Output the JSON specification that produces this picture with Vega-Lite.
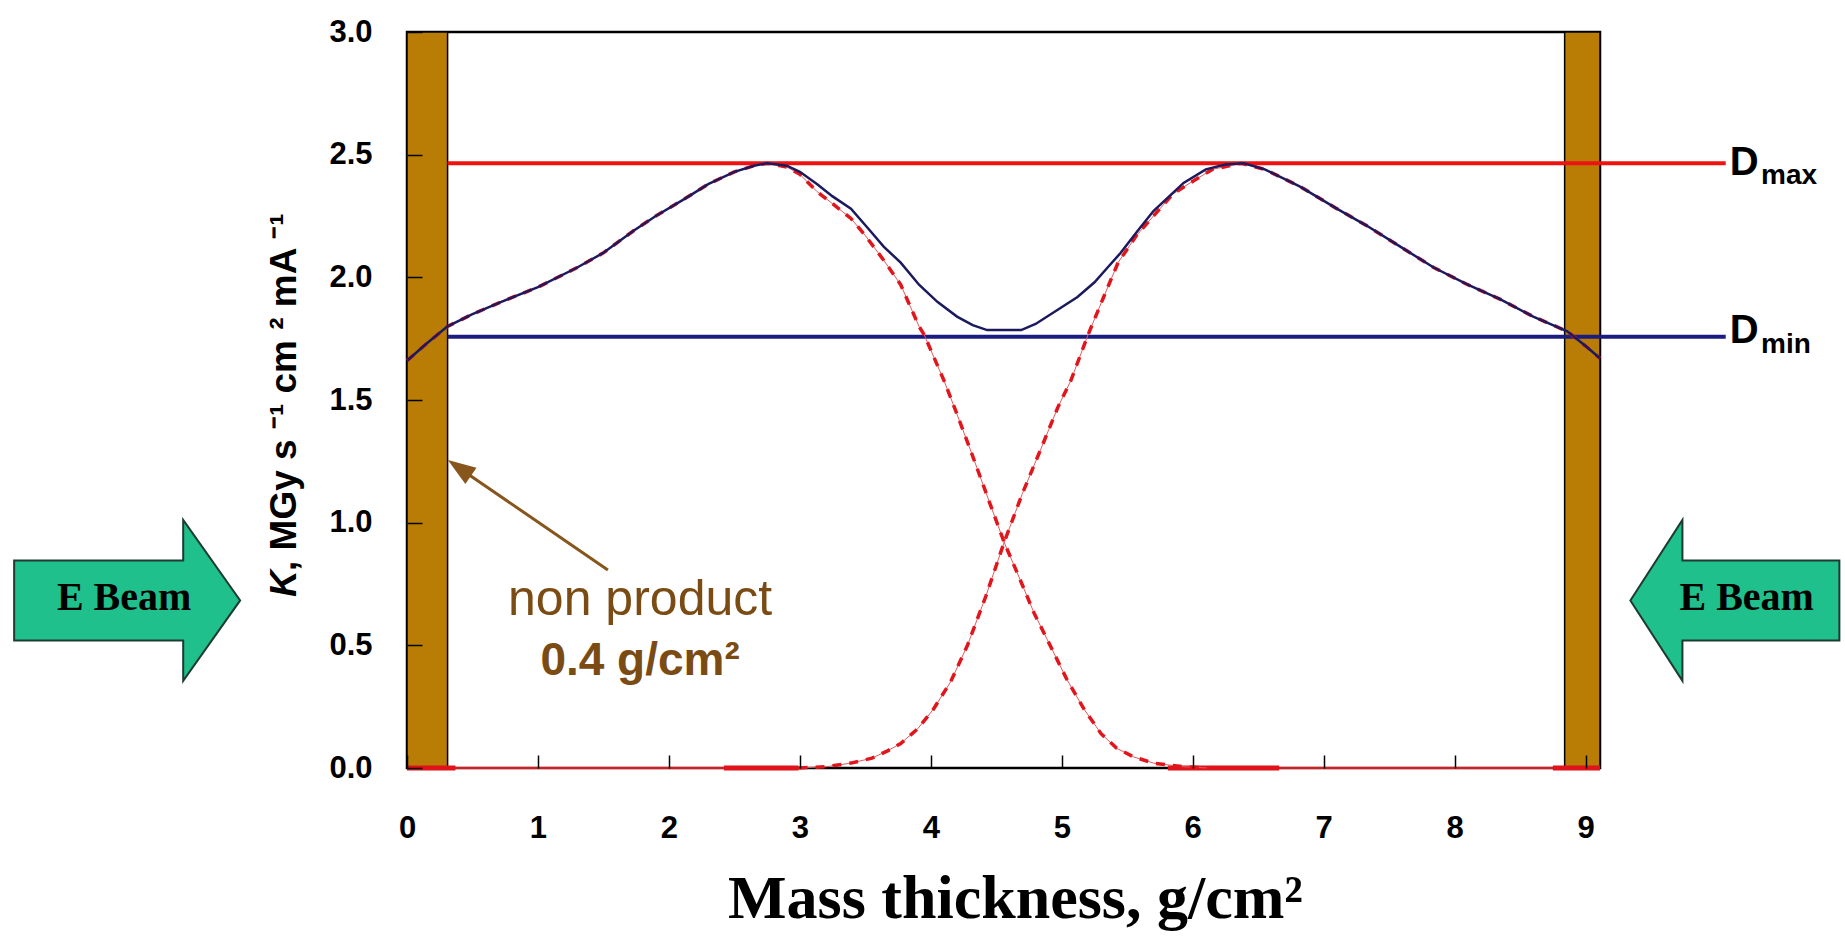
{
  "$schema": "https://vega.github.io/schema/vega-lite/v6.json",
  "width": 1193,
  "height": 736,
  "autosize": {"type": "none"},
  "padding": {"left": 407, "top": 32, "right": 245, "bottom": 177},
  "background": "white",
  "config": {"view": {"stroke": "black", "strokeWidth": 2.5}, "font": "Liberation Sans"},
  "datasets": {
    "curves": [
      {"series": "Left beam", "x": 0, "y": 1.66}, {"series": "Left beam", "x": 0.15, "y": 1.73}, {"series": "Left beam", "x": 0.31, "y": 1.8}, {"series": "Left beam", "x": 0.5, "y": 1.85}, {"series": "Left beam", "x": 0.72, "y": 1.9}, {"series": "Left beam", "x": 1.0, "y": 1.96}, {"series": "Left beam", "x": 1.3, "y": 2.04}, {"series": "Left beam", "x": 1.5, "y": 2.1}, {"series": "Left beam", "x": 1.73, "y": 2.19}, {"series": "Left beam", "x": 1.9, "y": 2.25}, {"series": "Left beam", "x": 2.12, "y": 2.32}, {"series": "Left beam", "x": 2.3, "y": 2.38}, {"series": "Left beam", "x": 2.5, "y": 2.43}, {"series": "Left beam", "x": 2.65, "y": 2.455}, {"series": "Left beam", "x": 2.75, "y": 2.465}, {"series": "Left beam", "x": 2.9, "y": 2.45}, {"series": "Left beam", "x": 3.0, "y": 2.42}, {"series": "Left beam", "x": 3.13, "y": 2.35}, {"series": "Left beam", "x": 3.25, "y": 2.3}, {"series": "Left beam", "x": 3.39, "y": 2.24}, {"series": "Left beam", "x": 3.5, "y": 2.17}, {"series": "Left beam", "x": 3.64, "y": 2.07}, {"series": "Left beam", "x": 3.77, "y": 1.97}, {"series": "Left beam", "x": 3.91, "y": 1.8}, {"series": "Left beam", "x": 3.95, "y": 1.765}, {"series": "Left beam", "x": 4.1, "y": 1.58}, {"series": "Left beam", "x": 4.18, "y": 1.47}, {"series": "Left beam", "x": 4.3, "y": 1.3}, {"series": "Left beam", "x": 4.45, "y": 1.08}, {"series": "Left beam", "x": 4.56, "y": 0.92}, {"series": "Left beam", "x": 4.68, "y": 0.77}, {"series": "Left beam", "x": 4.79, "y": 0.63}, {"series": "Left beam", "x": 4.92, "y": 0.49}, {"series": "Left beam", "x": 5.04, "y": 0.36}, {"series": "Left beam", "x": 5.17, "y": 0.24}, {"series": "Left beam", "x": 5.3, "y": 0.14}, {"series": "Left beam", "x": 5.42, "y": 0.08}, {"series": "Left beam", "x": 5.55, "y": 0.045}, {"series": "Left beam", "x": 5.7, "y": 0.02}, {"series": "Left beam", "x": 5.93, "y": 0.005}, {"series": "Left beam", "x": 6.12, "y": 0},
      {"series": "Right beam", "x": 2.99, "y": 0}, {"series": "Right beam", "x": 3.2, "y": 0.005}, {"series": "Right beam", "x": 3.39, "y": 0.02}, {"series": "Right beam", "x": 3.55, "y": 0.04}, {"series": "Right beam", "x": 3.67, "y": 0.07}, {"series": "Right beam", "x": 3.77, "y": 0.1}, {"series": "Right beam", "x": 3.9, "y": 0.16}, {"series": "Right beam", "x": 4.02, "y": 0.24}, {"series": "Right beam", "x": 4.15, "y": 0.35}, {"series": "Right beam", "x": 4.28, "y": 0.5}, {"series": "Right beam", "x": 4.42, "y": 0.7}, {"series": "Right beam", "x": 4.56, "y": 0.92}, {"series": "Right beam", "x": 4.7, "y": 1.12}, {"series": "Right beam", "x": 4.84, "y": 1.3}, {"series": "Right beam", "x": 4.97, "y": 1.47}, {"series": "Right beam", "x": 5.07, "y": 1.58}, {"series": "Right beam", "x": 5.2, "y": 1.765}, {"series": "Right beam", "x": 5.32, "y": 1.92}, {"series": "Right beam", "x": 5.43, "y": 2.06}, {"series": "Right beam", "x": 5.57, "y": 2.17}, {"series": "Right beam", "x": 5.7, "y": 2.25}, {"series": "Right beam", "x": 5.85, "y": 2.34}, {"series": "Right beam", "x": 5.98, "y": 2.385}, {"series": "Right beam", "x": 6.15, "y": 2.44}, {"series": "Right beam", "x": 6.37, "y": 2.465}, {"series": "Right beam", "x": 6.55, "y": 2.44}, {"series": "Right beam", "x": 6.82, "y": 2.37}, {"series": "Right beam", "x": 7.1, "y": 2.28}, {"series": "Right beam", "x": 7.33, "y": 2.21}, {"series": "Right beam", "x": 7.6, "y": 2.12}, {"series": "Right beam", "x": 7.84, "y": 2.04}, {"series": "Right beam", "x": 8.1, "y": 1.97}, {"series": "Right beam", "x": 8.35, "y": 1.91}, {"series": "Right beam", "x": 8.6, "y": 1.84}, {"series": "Right beam", "x": 8.86, "y": 1.78}, {"series": "Right beam", "x": 9.0, "y": 1.72}, {"series": "Right beam", "x": 9.11, "y": 1.67},
      {"series": "Total", "x": 0, "y": 1.66}, {"series": "Total", "x": 0.15, "y": 1.73}, {"series": "Total", "x": 0.31, "y": 1.8}, {"series": "Total", "x": 0.5, "y": 1.85}, {"series": "Total", "x": 0.72, "y": 1.9}, {"series": "Total", "x": 1.0, "y": 1.96}, {"series": "Total", "x": 1.3, "y": 2.04}, {"series": "Total", "x": 1.5, "y": 2.1}, {"series": "Total", "x": 1.73, "y": 2.19}, {"series": "Total", "x": 1.9, "y": 2.25}, {"series": "Total", "x": 2.12, "y": 2.32}, {"series": "Total", "x": 2.3, "y": 2.38}, {"series": "Total", "x": 2.5, "y": 2.43}, {"series": "Total", "x": 2.65, "y": 2.455}, {"series": "Total", "x": 2.75, "y": 2.465}, {"series": "Total", "x": 2.9, "y": 2.455}, {"series": "Total", "x": 3.0, "y": 2.43}, {"series": "Total", "x": 3.13, "y": 2.38}, {"series": "Total", "x": 3.25, "y": 2.33}, {"series": "Total", "x": 3.39, "y": 2.28}, {"series": "Total", "x": 3.52, "y": 2.2}, {"series": "Total", "x": 3.64, "y": 2.125}, {"series": "Total", "x": 3.77, "y": 2.06}, {"series": "Total", "x": 3.91, "y": 1.97}, {"series": "Total", "x": 4.05, "y": 1.9}, {"series": "Total", "x": 4.2, "y": 1.84}, {"series": "Total", "x": 4.32, "y": 1.805}, {"series": "Total", "x": 4.43, "y": 1.785}, {"series": "Total", "x": 4.69, "y": 1.785}, {"series": "Total", "x": 4.8, "y": 1.81}, {"series": "Total", "x": 4.99, "y": 1.875}, {"series": "Total", "x": 5.12, "y": 1.92}, {"series": "Total", "x": 5.25, "y": 1.98}, {"series": "Total", "x": 5.35, "y": 2.04}, {"series": "Total", "x": 5.45, "y": 2.1}, {"series": "Total", "x": 5.58, "y": 2.19}, {"series": "Total", "x": 5.7, "y": 2.27}, {"series": "Total", "x": 5.82, "y": 2.33}, {"series": "Total", "x": 5.93, "y": 2.385}, {"series": "Total", "x": 6.1, "y": 2.44}, {"series": "Total", "x": 6.25, "y": 2.46}, {"series": "Total", "x": 6.39, "y": 2.465}, {"series": "Total", "x": 6.55, "y": 2.44}, {"series": "Total", "x": 6.82, "y": 2.37}, {"series": "Total", "x": 7.1, "y": 2.28}, {"series": "Total", "x": 7.33, "y": 2.21}, {"series": "Total", "x": 7.6, "y": 2.12}, {"series": "Total", "x": 7.84, "y": 2.04}, {"series": "Total", "x": 8.1, "y": 1.97}, {"series": "Total", "x": 8.35, "y": 1.91}, {"series": "Total", "x": 8.6, "y": 1.84}, {"series": "Total", "x": 8.86, "y": 1.78}, {"series": "Total", "x": 9.0, "y": 1.72}, {"series": "Total", "x": 9.11, "y": 1.67}
    ],
    "zero": [
      {"seg": "a", "x": 0, "y": 0}, {"seg": "a", "x": 2.99, "y": 0},
      {"seg": "b", "x": 6.12, "y": 0}, {"seg": "b", "x": 9.11, "y": 0}
    ],
    "zerothick": [
      {"seg": "a", "x": 0, "y": 0}, {"seg": "a", "x": 0.37, "y": 0},
      {"seg": "b", "x": 2.42, "y": 0}, {"seg": "b", "x": 2.99, "y": 0},
      {"seg": "c", "x": 5.81, "y": 0}, {"seg": "c", "x": 6.66, "y": 0},
      {"seg": "d", "x": 8.75, "y": 0}, {"seg": "d", "x": 9.11, "y": 0}
    ],
    "bars": [
      {"name": "non product left", "x": 0, "x2": 0.31},
      {"name": "non product right", "x": 8.84, "x2": 9.11}
    ],
    "dlines": [
      {"name": "Dmax", "y": 2.465},
      {"name": "Dmin", "y": 1.758}
    ]
  },
  "layer": [
    {
      "data": {"name": "curves"},
      "transform": [{"filter": "datum.series === 'Total'"}],
      "mark": {"type": "line", "color": "#1c1a5e", "strokeWidth": 2.5, "opacity": 0},
      "encoding": {
        "x": {
          "field": "x", "type": "quantitative",
          "scale": {"domain": [0, 9.11], "nice": false, "zero": false},
          "axis": {
            "title": "Mass thickness, g/cm²", "titleFont": "Liberation Serif", "titleFontWeight": "bold", "titleFontSize": 62, "titleColor": "black",
            "titleX": 608, "titleY": 149, "titleBaseline": "alphabetic", "titleAlign": "center",
            "values": [0, 1, 2, 3, 4, 5, 6, 7, 8, 9], "format": "d",
            "labelFont": "Liberation Sans", "labelFontWeight": "bold", "labelFontSize": 31, "labelColor": "black", "labelPadding": 58,
            "tickSize": -13, "tickColor": "black", "tickWidth": 1.5, "domain": false, "grid": false, "zindex": 1, "labelFlush": false
          }
        },
        "y": {
          "field": "y", "type": "quantitative",
          "scale": {"domain": [0, 3], "nice": false, "zero": false},
          "axis": {
            "title": null,
            "values": [0, 0.5, 1, 1.5, 2, 2.5, 3], "format": ".1f",
            "labelFont": "Liberation Sans", "labelFontWeight": "bold", "labelFontSize": 31, "labelColor": "black", "labelPadding": 50,
            "tickSize": -15, "tickColor": "black", "tickWidth": 1.5, "domain": false, "grid": false, "zindex": 1, "labelFlush": false
          }
        }
      }
    },
    {
      "data": {"name": "bars"},
      "mark": {"type": "rect", "fill": "#b97d05", "stroke": "black", "strokeWidth": 1.5},
      "encoding": {
        "x": {"field": "x", "type": "quantitative"},
        "x2": {"field": "x2"},
        "y": {"datum": 0, "type": "quantitative"},
        "y2": {"datum": 3}
      }
    },
    {
      "data": {"name": "dlines"},
      "transform": [{"filter": "datum.name === 'Dmax'"}],
      "mark": {"type": "rule", "color": "#ee1313", "strokeWidth": 4},
      "encoding": {
        "y": {"field": "y", "type": "quantitative"},
        "x": {"datum": 0.31, "type": "quantitative"},
        "x2": {"datum": 10.07}
      }
    },
    {
      "data": {"name": "dlines"},
      "transform": [{"filter": "datum.name === 'Dmin'"}],
      "mark": {"type": "rule", "color": "#1b1c80", "strokeWidth": 4},
      "encoding": {
        "y": {"field": "y", "type": "quantitative"},
        "x": {"datum": 0.31, "type": "quantitative"},
        "x2": {"datum": 10.07}
      }
    },
    {
      "data": {"name": "zero"},
      "mark": {"type": "line", "color": "#e8141c", "strokeWidth": 2},
      "encoding": {
        "x": {"field": "x", "type": "quantitative"},
        "y": {"field": "y", "type": "quantitative"},
        "detail": {"field": "seg"}
      }
    },
    {
      "data": {"name": "zerothick"},
      "mark": {"type": "line", "color": "#e0121a", "strokeWidth": 5},
      "encoding": {
        "x": {"field": "x", "type": "quantitative"},
        "y": {"field": "y", "type": "quantitative"},
        "detail": {"field": "seg"}
      }
    },
    {
      "data": {"name": "curves"},
      "transform": [{"filter": "datum.series !== 'Total'"}],
      "mark": {"type": "line", "color": "#e05a5e", "strokeWidth": 1},
      "encoding": {
        "x": {"field": "x", "type": "quantitative"},
        "y": {"field": "y", "type": "quantitative"},
        "detail": {"field": "series"}
      }
    },
    {
      "data": {"name": "curves"},
      "transform": [{"filter": "datum.series !== 'Total'"}],
      "mark": {"type": "line", "color": "#e0161c", "strokeWidth": 3.5, "strokeDash": [9, 8]},
      "encoding": {
        "x": {"field": "x", "type": "quantitative"},
        "y": {"field": "y", "type": "quantitative"},
        "detail": {"field": "series"}
      }
    },
    {
      "data": {"name": "curves"},
      "transform": [{"filter": "datum.series === 'Total'"}],
      "mark": {"type": "line", "color": "#1c1a5e", "strokeWidth": 2.5},
      "encoding": {
        "x": {"field": "x", "type": "quantitative"},
        "y": {"field": "y", "type": "quantitative"}
      }
    },
    {
      "data": {"values": [{"label": "E Beam arrow"}]},
      "mark": {"type": "point", "shape": "M -1 -0.354 L 0.496 -0.354 L 0.496 -0.712 L 1 0 L 0.496 0.712 L 0.496 0.354 L -1 0.354 Z", "size": 51076, "filled": true, "fill": "#1fc08b", "stroke": "#1d3b30", "strokeWidth": 2, "opacity": 1},
      "encoding": {"x": {"datum": -2.137, "type": "quantitative"}, "y": {"datum": 0.683, "type": "quantitative"}}
    },
    {
      "data": {"values": [{"label": "E Beam arrow"}]},
      "mark": {"type": "point", "shape": "M 1 -0.383 L -0.502 -0.383 L -0.502 -0.77 L -1 0 L -0.502 0.77 L -0.502 0.383 L 1 0.383 Z", "size": 43681, "filled": true, "fill": "#1fc08b", "stroke": "#1d3b30", "strokeWidth": 2, "opacity": 1},
      "encoding": {"x": {"datum": 10.14, "type": "quantitative"}, "y": {"datum": 0.683, "type": "quantitative"}}
    },
    {
      "data": {"values": [{"label": "E Beam"}]},
      "mark": {"type": "text", "font": "Liberation Serif", "fontWeight": "bold", "fontSize": 40, "color": "black", "align": "center", "baseline": "middle"},
      "encoding": {"x": {"datum": -2.16, "type": "quantitative"}, "y": {"datum": 0.693, "type": "quantitative"}, "text": {"field": "label"}}
    },
    {
      "data": {"values": [{"label": "E Beam"}]},
      "mark": {"type": "text", "font": "Liberation Serif", "fontWeight": "bold", "fontSize": 40, "color": "black", "align": "center", "baseline": "middle"},
      "encoding": {"x": {"datum": 10.23, "type": "quantitative"}, "y": {"datum": 0.693, "type": "quantitative"}, "text": {"field": "label"}}
    },
    {
      "data": {"values": [{"label": "D"}]},
      "mark": {"type": "text", "fontWeight": "bold", "fontSize": 40, "color": "black", "align": "left", "baseline": "alphabetic"},
      "encoding": {"x": {"datum": 10.1, "type": "quantitative"}, "y": {"datum": 2.417, "type": "quantitative"}, "text": {"field": "label"}}
    },
    {
      "data": {"values": [{"label": "max"}]},
      "mark": {"type": "text", "fontWeight": "bold", "fontSize": 28, "color": "black", "align": "left", "baseline": "alphabetic"},
      "encoding": {"x": {"datum": 10.34, "type": "quantitative"}, "y": {"datum": 2.38, "type": "quantitative"}, "text": {"field": "label"}}
    },
    {
      "data": {"values": [{"label": "D"}]},
      "mark": {"type": "text", "fontWeight": "bold", "fontSize": 40, "color": "black", "align": "left", "baseline": "alphabetic"},
      "encoding": {"x": {"datum": 10.1, "type": "quantitative"}, "y": {"datum": 1.731, "type": "quantitative"}, "text": {"field": "label"}}
    },
    {
      "data": {"values": [{"label": "min"}]},
      "mark": {"type": "text", "fontWeight": "bold", "fontSize": 28, "color": "black", "align": "left", "baseline": "alphabetic"},
      "encoding": {"x": {"datum": 10.34, "type": "quantitative"}, "y": {"datum": 1.692, "type": "quantitative"}, "text": {"field": "label"}}
    },
    {
      "data": {"values": [{"label": "non product"}]},
      "mark": {"type": "text", "fontSize": 50, "color": "#7b4b14", "align": "center", "baseline": "alphabetic"},
      "encoding": {"x": {"datum": 1.78, "type": "quantitative"}, "y": {"datum": 0.624, "type": "quantitative"}, "text": {"field": "label"}}
    },
    {
      "data": {"values": [{"label": "0.4 g/cm²"}]},
      "mark": {"type": "text", "fontSize": 46, "fontWeight": "bold", "color": "#7b4b14", "align": "center", "baseline": "alphabetic"},
      "encoding": {"x": {"datum": 1.78, "type": "quantitative"}, "y": {"datum": 0.379, "type": "quantitative"}, "text": {"field": "label"}}
    },
    {
      "data": {"values": [{"label": "arrow"}]},
      "mark": {"type": "rule", "color": "#87561c", "strokeWidth": 3},
      "encoding": {"x": {"datum": 1.534, "type": "quantitative"}, "x2": {"datum": 0.42}, "y": {"datum": 0.807, "type": "quantitative"}, "y2": {"datum": 1.215}}
    },
    {
      "data": {"values": [{"label": "arrowhead"}]},
      "mark": {"type": "point", "shape": "M 0 -1 L 0.7 1 L -0.7 1 Z", "size": 784, "angle": 304.5, "filled": true, "fill": "#87561c", "opacity": 1},
      "encoding": {"x": {"datum": 0.4, "type": "quantitative"}, "y": {"datum": 1.223, "type": "quantitative"}}
    },
    {
      "data": {"values": [{"label": "K"}]},
      "mark": {"type": "text", "fontWeight": "bold", "fontStyle": "italic", "fontSize": 37, "color": "black", "align": "left", "baseline": "alphabetic", "angle": 270},
      "encoding": {"x": {"datum": -0.847, "type": "quantitative"}, "y": {"datum": 0.697, "type": "quantitative"}, "text": {"field": "label"}}
    },
    {
      "data": {"values": [{"label": ", MGy s ⁻¹ cm ² mA ⁻¹"}]},
      "mark": {"type": "text", "fontWeight": "bold", "fontSize": 37, "color": "black", "align": "left", "baseline": "alphabetic", "angle": 270},
      "encoding": {"x": {"datum": -0.847, "type": "quantitative"}, "y": {"datum": 0.803, "type": "quantitative"}, "text": {"field": "label"}}
    }
  ]
}
